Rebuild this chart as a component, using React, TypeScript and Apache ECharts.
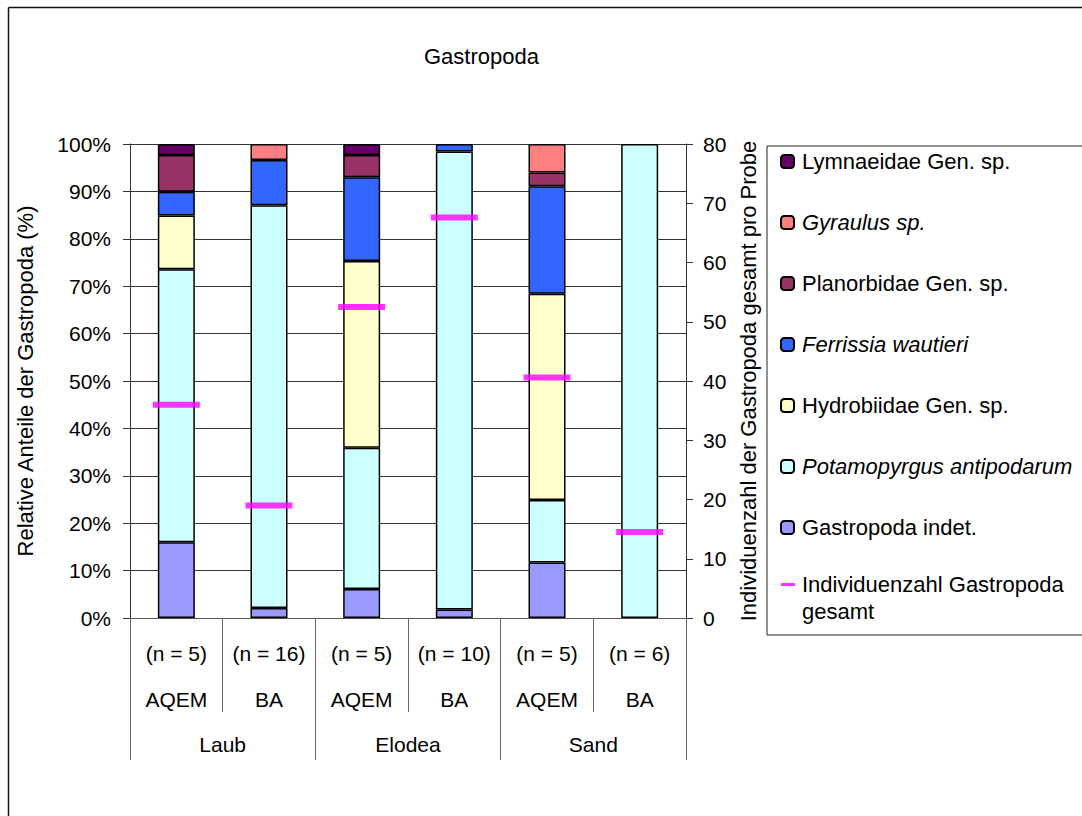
import React, { useEffect, useRef } from 'react';
import * as echarts from 'echarts';

const groups = ['Laub', 'Elodea', 'Sand'];
const methods = ['AQEM', 'BA', 'AQEM', 'BA', 'AQEM', 'BA'];
const sampleCounts = ['(n = 5)', '(n = 16)', '(n = 5)', '(n = 10)', '(n = 5)', '(n = 6)'];
const categoryKeys = ['Laub AQEM', 'Laub BA', 'Elodea AQEM', 'Elodea BA', 'Sand AQEM', 'Sand BA'];

const gastropodaIndet = [16.0, 2.1, 6.1, 1.8, 11.7, 0];
const potamopyrgus = [57.6, 85.0, 29.8, 96.6, 13.2, 100];
const hydrobiidae = [11.3, 0, 39.4, 0, 43.5, 0];
const ferrissia = [5.0, 9.5, 17.7, 1.6, 22.7, 0];
const planorbidae = [7.8, 0, 4.7, 0, 2.9, 0];
const gyraulus = [0, 3.4, 0, 0, 6.0, 0];
const lymnaeidae = [2.3, 0, 2.3, 0, 0, 0];
const individuals = [36, 19, 52.5, 67.6, 40.6, 14.5];

const barSeries = [
  { name: 'Gastropoda indet.', data: gastropodaIndet, color: '#9999FF' },
  { name: 'Potamopyrgus antipodarum', data: potamopyrgus, color: '#CCFFFF' },
  { name: 'Hydrobiidae Gen. sp.', data: hydrobiidae, color: '#FFFFCC' },
  { name: 'Ferrissia wautieri', data: ferrissia, color: '#3366FF' },
  { name: 'Planorbidae Gen. sp.', data: planorbidae, color: '#993366' },
  { name: 'Gyraulus sp.', data: gyraulus, color: '#FF8080' },
  { name: 'Lymnaeidae Gen. sp.', data: lymnaeidae, color: '#660066' },
];
const lineName = 'Individuenzahl Gastropoda\ngesamt';
const italicNames = ['Gyraulus sp.', 'Ferrissia wautieri', 'Potamopyrgus antipodarum'];
const legendBarOrder = [
  'Lymnaeidae Gen. sp.',
  'Gyraulus sp.',
  'Planorbidae Gen. sp.',
  'Ferrissia wautieri',
  'Hydrobiidae Gen. sp.',
  'Potamopyrgus antipodarum',
  'Gastropoda indet.',
];

const FONT = '"Liberation Sans", Arial, sans-serif';

export default function App() {
  const ref = useRef<HTMLDivElement>(null);
  useEffect(() => {
    if (!ref.current) return;
    const chart = echarts.init(ref.current, null, { renderer: 'svg' });
    const legendText = {
      fontFamily: FONT,
      fontSize: 22,
      lineHeight: 27,
      color: '#000',
      padding: [0, 0, 0, 3],
      rich: {
        i: { fontFamily: FONT, fontSize: 22, lineHeight: 27, fontStyle: 'italic', color: '#000' },
      },
    };
    const option: any = {
      animation: false,
      backgroundColor: '#fff',
      textStyle: { fontFamily: FONT, color: '#000' },
      title: {
        text: 'Gastropoda',
        left: 419,
        top: 40,
        textStyle: { fontFamily: FONT, fontSize: 22, fontWeight: 'normal', color: '#000' },
      },
      graphic: [
        {
          type: 'line',
          shape: { x1: 8.5, y1: 7.5, x2: 1082, y2: 7.5 },
          style: { stroke: '#111', lineWidth: 1.5 },
          silent: true,
        },
        {
          type: 'line',
          shape: { x1: 8.5, y1: 7.5, x2: 8.5, y2: 816 },
          style: { stroke: '#111', lineWidth: 1.5 },
          silent: true,
        },
      ],
      legend: [
        {
          orient: 'vertical',
          left: 767,
          top: 146,
          padding: [2, 30, 94, 13],
          itemGap: 34,
          itemWidth: 13,
          itemHeight: 13,
          borderColor: '#222',
          borderWidth: 1,
          data: legendBarOrder,
          formatter: (name: string) => (italicNames.includes(name) ? `{i|${name}}` : name),
          textStyle: legendText,
        },
        {
          orient: 'vertical',
          left: 781,
          top: 544,
          padding: 0,
          itemWidth: 14,
          itemHeight: 13,
          data: [{ name: lineName, icon: 'path://M0,0H14V3H0Z', itemStyle: { color: '#FF00FF', borderWidth: 0 } }],
          textStyle: { ...legendText, padding: [27, 0, 0, 2] },
        },
      ],
      grid: { left: 130, right: 396, top: 144, bottom: 198, containLabel: false },
      xAxis: [
        {
          type: 'category',
          data: categoryKeys,
          position: 'bottom',
          axisLine: { show: true, lineStyle: { color: '#555', width: 1 } },
          axisTick: { show: true, interval: 0, length: 94, lineStyle: { color: '#666' } },
          axisLabel: {
            interval: 0,
            margin: 12,
            fontFamily: FONT,
            fontSize: 21,
            color: '#000',
            lineHeight: 46,
            formatter: (_v: string, i: number) => `${sampleCounts[i]}\n${methods[i]}`,
          },
        },
        {
          type: 'category',
          data: groups,
          position: 'bottom',
          axisLine: { show: false },
          axisTick: { show: true, interval: 0, length: 142, lineStyle: { color: '#666' } },
          axisLabel: {
            interval: 0,
            margin: 116,
            fontFamily: FONT,
            fontSize: 21,
            color: '#000',
          },
        },
      ],
      yAxis: [
        {
          type: 'value',
          min: 0,
          max: 100,
          interval: 10,
          position: 'left',
          name: 'Relative Anteile der Gastropoda (%)',
          nameLocation: 'middle',
          nameGap: 94,
          nameTextStyle: { fontFamily: FONT, fontSize: 22, color: '#000' },
          axisLine: { show: true, lineStyle: { color: '#333' } },
          axisTick: { show: true, length: 7, lineStyle: { color: '#333' } },
          axisLabel: { margin: 19, fontFamily: FONT, fontSize: 21, color: '#000', formatter: '{value}%' },
          splitLine: { show: true, lineStyle: { color: '#333', width: 1 } },
        },
        {
          type: 'value',
          min: 0,
          max: 80,
          interval: 10,
          position: 'right',
          name: 'Individuenzahl der Gastropoda gesamt pro Probe',
          nameLocation: 'middle',
          nameGap: 51,
          nameTextStyle: { fontFamily: FONT, fontSize: 22, color: '#000' },
          axisLine: { show: true, lineStyle: { color: '#333' } },
          axisTick: { show: true, length: 7, lineStyle: { color: '#333' } },
          axisLabel: { margin: 17, fontFamily: FONT, fontSize: 21, color: '#000' },
          splitLine: { show: false },
        },
      ],
      series: [
        ...barSeries.map((s) => ({
          name: s.name,
          type: 'bar',
          stack: 'total',
          barWidth: 37,
          xAxisIndex: 0,
          yAxisIndex: 0,
          itemStyle: { color: s.color, borderColor: '#000', borderWidth: 1.5 },
          data: s.data.map((v) => (v === 0 ? '-' : v)),
        })),
        {
          name: lineName,
          type: 'scatter',
          xAxisIndex: 0,
          yAxisIndex: 1,
          symbol: 'rect',
          symbolSize: [47, 6],
          itemStyle: { color: '#FF00FF' },
          z: 10,
          data: individuals,
        },
      ],
    };
    chart.setOption(option);
    return () => chart.dispose();
  }, []);
  return (
    <div
      ref={ref}
      style={{ position: 'fixed', left: 0, top: 0, width: 1082, height: 816 }}
    />
  );
}
